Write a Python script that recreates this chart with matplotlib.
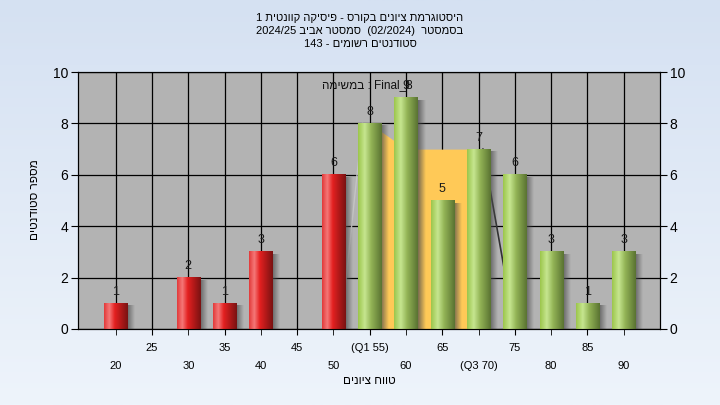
import numpy as np
import matplotlib
matplotlib.use('Agg')
import matplotlib.pyplot as plt
from matplotlib.colors import LinearSegmentedColormap

plt.rcParams['font.family'] = ['Liberation Sans', 'DejaVu Sans']

# data
scores = [20, 25, 30, 35, 40, 45, 50, 55, 60, 65, 70, 75, 80, 85, 90]
counts = [1, 0, 2, 1, 3, 0, 6, 8, 9, 5, 7, 6, 3, 1, 3]
pass_mark = 55
odd_ticks = [25, 35, 45, 55, 65, 75, 85]
odd_labels = ['25', '35', '45', '(Q1 55)', '65', '75', '85']
even_ticks = [20, 30, 40, 50, 60, 70, 80, 90]
even_labels = ['20', '30', '40', '50', '60', '(Q3 70)', '80', '90']
quart_x = [55, 60, 65, 70]
quart_y = [8, 7, 7, 7]
line_x = [70.6, 75]
line_y = [7.0, 0]
faint_x = [51, 54]
faint_y = [0, 8]

# hebrew strings in visual (left to right) order
title1 = '1 תיטנווק הקיסיפ - סרוקב םינויצ תמרגוטסיה'
title2 = '2024/25 ביבא רטסמס  (02/2024)  רטסמסב'
title3 = '143 - םימושר םיטנדוטס'
ylab = 'םיטנדוטס רפסמ'
xlab = 'םינויצ חווט'
note = 'המישמב : Final_8'

fig = plt.figure(figsize=(7.2, 4.05), dpi=100)

# background gradient
bg = fig.add_axes([0, 0, 1, 1], zorder=-5)
grad = np.linspace(0, 1, 256).reshape(-1, 1)
bg_cmap = LinearSegmentedColormap.from_list('bg', ['#d5e1f2', '#eef4fb'])
bg.imshow(grad, aspect='auto', cmap=bg_cmap, extent=(0, 1, 0, 1))
bg.axis('off')

ax = fig.add_axes([0.1083, 0.1877, 0.8084, 0.6345])
ax.set_facecolor('#b3b3b3')

red_cmap = LinearSegmentedColormap.from_list(
    'red', [(0, '#e23a3a'), (0.22, '#f57878'), (0.45, '#e42020'), (1, '#7a1212')])
green_cmap = LinearSegmentedColormap.from_list(
    'green', [(0, '#9cc64c'), (0.28, '#c6e690'), (0.55, '#93b456'), (1, '#5a7332')])

w = 3.2
hgrad = np.linspace(0, 1, 64).reshape(1, -1)
shadow = np.zeros((1, 32, 4))
shadow[..., :3] = 0.3
shadow[0, :, 3] = np.linspace(0.75, 0.0, 32)

# quartile area and lines
ax.fill_between(quart_x, quart_y, 0, color='#ffc957', lw=0, zorder=2)
ax.plot(line_x, line_y, color='#333333', lw=1.2, zorder=2.5)
ax.plot(faint_x, faint_y, color='#c4c4c4', lw=1.0, zorder=2.5)

for s, c in zip(scores, counts):
    if c == 0:
        continue
    cm = red_cmap if s < pass_mark else green_cmap
    ax.imshow(shadow, aspect='auto', extent=(s + w / 2, s + w / 2 + 1.0, 0, c - 0.1),
              zorder=2.8, interpolation='bilinear')
    ax.imshow(hgrad, aspect='auto', cmap=cm, extent=(s - w / 2, s + w / 2, 0, c),
              zorder=3, interpolation='bilinear')
    ax.text(s, c + 0.45, str(c), ha='center', va='center', fontsize=9,
            color='#1a1a1a', zorder=5)

ax.text(54.6, 9.5, note, ha='center', va='center', fontsize=8.5, color='#111111', zorder=5)

ax.set_xlim(14.8, 95)
ax.set_ylim(0, 10)
ax.set_yticks([0, 2, 4, 6, 8, 10])
ax.set_xticks(odd_ticks)
ax.set_xticklabels(odd_labels)
ax.set_xticks(even_ticks, minor=True)
ax.set_xticklabels(even_labels, minor=True)
ax.tick_params(axis='x', which='major', length=4, pad=6, labelsize=8)
ax.tick_params(axis='x', which='minor', length=4, pad=19, labelsize=8)
ax.tick_params(axis='y', length=5, pad=2, labelsize=10)
ax.grid(True, which='both', axis='x', color='black', lw=0.9, zorder=1)
ax.grid(True, which='major', axis='y', color='black', lw=0.9, zorder=1)
ax.set_axisbelow(True)
for sp in ax.spines.values():
    sp.set_color('black')

ax2 = ax.twinx()
ax2.set_ylim(0, 10)
ax2.set_yticks([0, 2, 4, 6, 8, 10])
ax2.tick_params(axis='y', length=5, pad=2, labelsize=10)

fig.text(0.5, 0.955, title1, ha='center', va='center', fontsize=8)
fig.text(0.5, 0.923, title2, ha='center', va='center', fontsize=8)
fig.text(0.5, 0.891, title3, ha='center', va='center', fontsize=8)
fig.text(0.049, 0.506, ylab, ha='center', va='center', rotation=90, fontsize=8.5)
fig.text(0.513, 0.059, xlab, ha='center', va='center', fontsize=8.5)

plt.savefig('out.png', dpi=100)
